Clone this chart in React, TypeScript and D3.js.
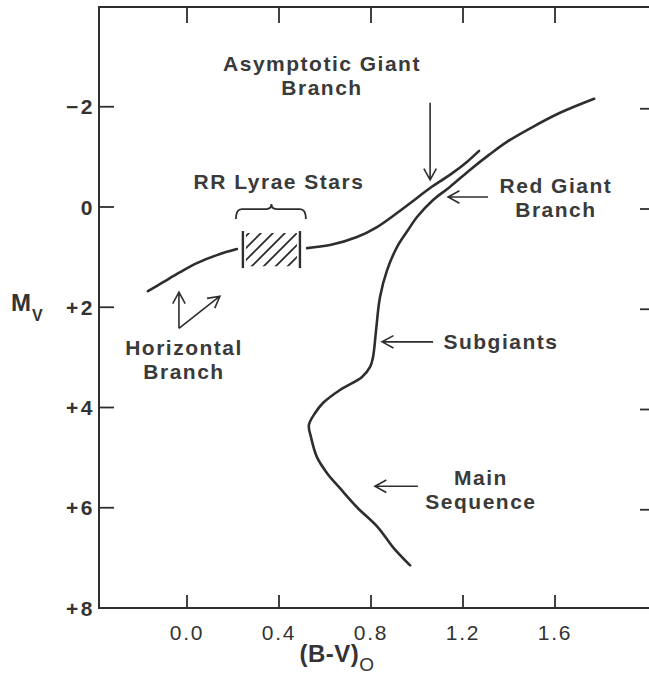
import React from 'react';
import * as d3 from 'd3';

// axis ticks
const xTicks = [0, 0.4, 0.8, 1.2, 1.6];
const xTickLabels = ['0.0', '0.4', '0.8', '1.2', '1.6'];
const yTicks = [-2, 0, 2, 4, 6, 8];
const yTickLabels = ['−2', '0', '+2', '+4', '+6', '+8'];

// [B-V, Mv]
// horizontal branch, blue side of the RR Lyrae gap
const hbBlue: [number, number][] = [
  [-0.17, 1.68], [-0.104, 1.5], [-0.03, 1.3], [0.043, 1.12], [0.13, 0.96], [0.217, 0.84],
];
// red horizontal branch running into the asymptotic giant branch
const hbRedAgb: [number, number][] = [
  [0.522, 0.82], [0.622, 0.76], [0.739, 0.6], [0.826, 0.4], [0.913, 0.12],
  [1.0, -0.18], [1.057, -0.38], [1.143, -0.64], [1.217, -0.9], [1.27, -1.12],
];
// main sequence -> subgiants -> red giant branch
const msRgb: [number, number][] = [
  [0.97, 7.15], [0.896, 6.79], [0.83, 6.39], [0.739, 5.99], [0.665, 5.61],
  [0.609, 5.31], [0.565, 4.99], [0.539, 4.59], [0.53, 4.35], [0.557, 4.11],
  [0.591, 3.91], [0.665, 3.65], [0.761, 3.39], [0.796, 3.19], [0.809, 2.99],
  [0.822, 2.46], [0.839, 1.8], [0.87, 1.26], [0.913, 0.8], [0.961, 0.46],
  [1.0, 0.2], [1.07, -0.14], [1.143, -0.4], [1.23, -0.74], [1.313, -1.04],
  [1.391, -1.3], [1.504, -1.6], [1.622, -1.88], [1.77, -2.16],
];
// RR Lyrae instability gap
const rrColor = [0.243, 0.491];
const rrMag = [0.48, 1.22];

// annotation text: lines, centre [B-V, Mv]
const notes = [
  { lines: ['Asymptotic Giant', 'Branch'], at: [0.587, -2.87] },
  { lines: ['RR Lyrae Stars'], at: [0.4, -0.5] },
  { lines: ['Red Giant', 'Branch'], at: [1.604, -0.44] },
  { lines: ['Subgiants'], at: [1.365, 2.69] },
  { lines: ['Main', 'Sequence'], at: [1.278, 5.39] },
  { lines: ['Horizontal', 'Branch'], at: [-0.013, 2.81] },
];
// arrows: from -> to
const arrows = [
  [[1.057, -2.08], [1.057, -0.54]],
  [[1.309, -0.2], [1.135, -0.2]],
  [[1.07, 2.69], [0.848, 2.69]],
  [[1.004, 5.57], [0.817, 5.57]],
  [[-0.035, 2.42], [-0.035, 1.7]],
  [[-0.035, 2.42], [0.143, 1.78]],
];

const W = 649;
const H = 675;
const left = 99;
const right = 660;
const top = 7;
const bottom = 608;

const x = d3.scaleLinear().domain([0, 1.6]).range([187, 555]);
const y = d3.scaleLinear().domain([0, 8]).range([207, bottom]);

const ink = '#2e2e2e';
const font = '"Liberation Sans", Arial, Helvetica, sans-serif';

const line = d3
  .line<[number, number]>()
  .x(d => x(d[0]))
  .y(d => y(d[1]))
  .curve(d3.curveCatmullRom.alpha(0.5));

function arrowPath(from: number[], to: number[]) {
  const x1 = x(from[0]), y1 = y(from[1]);
  const x2 = x(to[0]), y2 = y(to[1]);
  const a = Math.atan2(y2 - y1, x2 - x1);
  const L = 13;
  const s = 0.5;
  return `M${x1},${y1}L${x2},${y2}` +
    `M${x2 - L * Math.cos(a - s)},${y2 - L * Math.sin(a - s)}L${x2},${y2}` +
    `L${x2 - L * Math.cos(a + s)},${y2 - L * Math.sin(a + s)}`;
}

export default function App() {
  const bx0 = x(rrColor[0]);
  const bx1 = x(rrColor[1]);
  const by0 = y(rrMag[0]);
  const by1 = y(rrMag[1]);
  const hatch = d3.range(-(by1 - by0) - 4, bx1 - bx0 + 4, 12);

  // curly brace over the gap
  const cx = (bx0 + bx1) / 2;
  const l0 = bx0 - 7, r0 = bx1 + 6;
  const yb = by0 - 12, yt = by0 - 22;
  const brace = `M${l0},${yb}Q${l0},${yt} ${l0 + 6},${yt}L${cx - 5},${yt}Q${cx},${yt} ${cx},${yt - 5}` +
    `Q${cx},${yt} ${cx + 5},${yt}L${r0 - 6},${yt}Q${r0},${yt} ${r0},${yb}`;

  return (
    <svg width={W} height={H} style={{ position: 'absolute', left: 0, top: 0, background: '#fff' }}>
      <defs>
        <clipPath id="rr">
          <rect x={bx0 + 3} y={by0 + 2} width={bx1 - bx0 - 6} height={by1 - by0 - 4} />
        </clipPath>
      </defs>

      {/* frame */}
      <path d={`M${right},${top}L${left},${top}L${left},${bottom}L${right},${bottom}`}
        fill="none" stroke={ink} strokeWidth={2} />

      {/* ticks */}
      {xTicks.map(t => (
        <g key={'x' + t} stroke={ink} strokeWidth={1.8}>
          <line x1={x(t)} x2={x(t)} y1={bottom} y2={bottom - 13} />
          <line x1={x(t)} x2={x(t)} y1={top} y2={top + 16} />
        </g>
      ))}
      {yTicks.slice(0, -1).map(t => (
        <g key={'y' + t} stroke={ink} strokeWidth={1.8}>
          <line x1={left} x2={left + 15} y1={y(t)} y2={y(t)} />
          <line x1={640} x2={right} y1={y(t) + 2} y2={y(t) + 2} />
        </g>
      ))}

      {/* tick labels */}
      {xTicks.map((t, i) => (
        <text key={'xl' + t} x={x(t)} y={640} textAnchor="middle" fontFamily={font}
          fontSize={21} letterSpacing={1.8} fill="#333">{xTickLabels[i]}</text>
      ))}
      {yTicks.map((t, i) => (
        <text key={'yl' + t} x={95} y={y(t)} dy="0.36em" textAnchor="end" fontFamily={font}
          fontSize={21} fontWeight="bold" letterSpacing={2.5} fill="#333">{yTickLabels[i]}</text>
      ))}

      {/* axis titles */}
      <text x={337} y={662} textAnchor="middle" fontFamily={font} fontSize={24} fill="#333"
        fontWeight="bold" letterSpacing={0.5}>
        (B-V)<tspan dy={9} fontSize={19} fontWeight="normal">O</tspan>
      </text>
      <text x={11} y={311} fontFamily={font} fontSize={24} fontWeight="bold" fill="#333">
        M<tspan dx={1} dy={10} fontSize={16}>V</tspan>
      </text>

      {/* sequences */}
      <g fill="none" stroke={ink} strokeWidth={2.6} strokeLinecap="round">
        <path d={line(hbBlue) || ''} />
        <path d={line(hbRedAgb) || ''} />
        <path d={line(msRgb) || ''} />
      </g>

      {/* RR Lyrae gap */}
      <g stroke={ink} strokeWidth={2.4}>
        <line x1={bx0} x2={bx0} y1={by0} y2={by1} />
        <line x1={bx1} x2={bx1} y1={by0} y2={by1} />
      </g>
      <g clipPath="url(#rr)" stroke={ink} strokeWidth={1.8}>
        {hatch.map(k => (
          <line key={k} x1={bx0 + k} y1={by1} x2={bx0 + k + (by1 - by0)} y2={by0} />
        ))}
      </g>
      <path d={brace} fill="none" stroke={ink} strokeWidth={1.8} />

      {/* arrows */}
      <g fill="none" stroke={ink} strokeWidth={1.6}>
        {arrows.map((a, i) => <path key={i} d={arrowPath(a[0], a[1])} />)}
      </g>

      {/* annotations */}
      {notes.map((n, i) => (
        <text key={i} textAnchor="middle" fontFamily={font} fontSize={21} fontWeight="bold"
          letterSpacing={1.5} fill="#3a3a3a">
          {n.lines.map((s, j) => (
            <tspan key={j} x={x(n.at[0])} y={y(n.at[1]) + j * 24} dy="0.36em">{s}</tspan>
          ))}
        </text>
      ))}
    </svg>
  );
}
